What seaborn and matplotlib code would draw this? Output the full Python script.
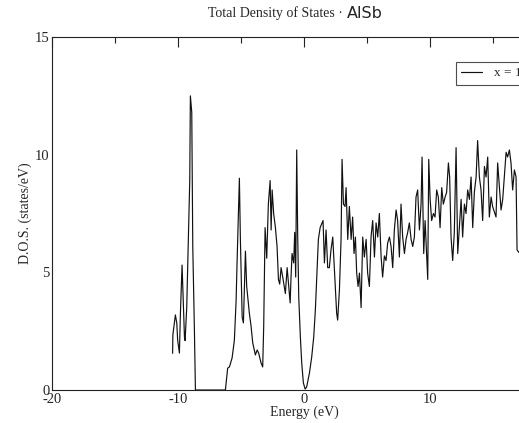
import matplotlib

matplotlib.use("Agg")

import matplotlib.pyplot as plt
import pandas as pd
import seaborn as sns
from matplotlib.ticker import MultipleLocator

# values (energy in eV, DOS in states/eV)
energy = [
    -10.46, -10.44, -10.24, -10.13, -10.06, -9.92, -9.84, -9.71, -9.52, -9.47,
    -9.34, -9.21, -9.10, -9.05, -8.94, -8.86, -8.73, -8.65, -6.27,
    -6.09, -5.95, -5.74, -5.56, -5.42, -5.34, -5.16, -5.08, -4.94, -4.84,
    -4.68, -4.58, -4.37, -4.23, -4.10, -3.89, -3.75, -3.63, -3.44, -3.31,
    -3.23, -3.12, -2.99, -2.86, -2.72, -2.64, -2.56, -2.44, -2.30, -2.17,
    -2.06, -1.96, -1.85, -1.72, -1.51, -1.37, -1.13, -1.06, -0.98, -0.85,
    -0.77, -0.69, -0.61, -0.53, -0.45, -0.32, -0.21, -0.08, 0.06, 0.18,
    0.40, 0.58, 0.74, 0.87, 1.01, 1.11, 1.25, 1.48, 1.59, 1.72,
    1.85, 1.98, 2.11, 2.25, 2.33, 2.46, 2.56, 2.64, 2.78, 2.91,
    2.99, 3.10, 3.23, 3.31, 3.44, 3.57, 3.71, 3.83, 3.94, 4.05,
    4.15, 4.26, 4.37, 4.50, 4.63, 4.76, 4.90, 5.02, 5.16, 5.29,
    5.42, 5.56, 5.69, 5.82, 5.95, 6.09, 6.21, 6.35, 6.48, 6.61,
    6.75, 6.88, 7.01, 7.14, 7.28, 7.40, 7.54, 7.67, 7.80, 7.94,
    8.07, 8.20, 8.33, 8.47, 8.60, 8.73, 8.86, 8.99, 9.13, 9.26,
    9.34, 9.47, 9.58, 9.79, 9.87, 9.98, 10.10, 10.24, 10.37, 10.50,
    10.63, 10.77, 10.90, 11.03, 11.17, 11.29, 11.43, 11.53, 11.64, 11.77,
    11.90, 12.04, 12.17, 12.30, 12.44, 12.56, 12.70, 12.83, 12.96, 13.10,
    13.23, 13.36, 13.49, 13.63, 13.75, 13.89, 14.02, 14.15, 14.29, 14.42,
    14.55, 14.68, 14.82, 14.94, 15.21, 15.34, 15.48, 15.61, 15.74, 15.87,
    16.01, 16.13, 16.27, 16.40, 16.53, 16.67, 16.80, 16.88, 17.10,
]
dos = [
    1.56, 2.34, 3.19, 2.85, 2.12, 1.57, 3.27, 5.31, 2.25, 2.10,
    3.50, 6.40, 8.90, 12.50, 11.80, 6.10, 2.55, 0.00, 0.00,
    0.93, 0.98, 1.36, 2.10, 3.80, 5.50, 9.00, 6.40, 3.10, 2.85,
    5.90, 4.40, 3.27, 2.70, 2.00, 1.49, 1.70, 1.57, 1.15, 0.98,
    2.70, 6.90, 5.60, 7.90, 8.90, 6.80, 8.50, 7.50, 6.90, 6.10,
    4.70, 4.50, 5.20, 4.80, 4.10, 5.20, 3.70, 4.80, 5.80, 5.40,
    6.70, 4.80, 10.20, 6.50, 3.97, 2.25, 1.13, 0.30, 0.04, 0.13,
    0.72, 1.40, 2.25, 3.40, 5.10, 6.40, 6.90, 7.20, 5.40, 6.80,
    5.20, 5.20, 5.95, 6.50, 5.65, 4.25, 3.27, 2.97, 4.25, 6.40,
    9.80, 7.90, 7.80, 8.60, 6.40, 7.80, 6.40, 7.35, 5.80, 6.50,
    4.97, 4.40, 4.97, 3.50, 6.50, 5.65, 6.40, 4.97, 4.40, 6.50,
    7.20, 5.65, 7.10, 6.50, 7.50, 5.65, 4.80, 5.70, 5.50, 6.25,
    6.50, 6.10, 5.20, 6.80, 7.65, 7.20, 5.65, 7.90, 6.50, 5.80,
    6.40, 6.70, 7.10, 6.40, 6.10, 6.50, 8.20, 8.50, 6.80, 7.90,
    9.90, 5.80, 7.20, 4.70, 9.80, 8.10, 7.20, 7.50, 7.35, 8.50,
    8.20, 6.90, 8.60, 7.90, 8.20, 8.40, 9.65, 9.05, 6.50, 5.50,
    6.70, 10.30, 5.80, 6.90, 8.10, 6.50, 7.90, 7.50, 8.50, 8.10,
    9.05, 6.90, 8.40, 9.05, 10.60, 9.05, 8.50, 7.20, 9.50, 9.05,
    9.90, 7.35, 8.20, 7.80, 7.35, 9.65, 8.60, 7.65, 8.10, 9.05,
    10.10, 9.90, 10.20, 9.65, 8.50, 9.35, 9.05, 5.95, 5.80,
]

x_ticks = [-20, -10, 0, 10, 20]
y_ticks = [0, 5, 10, 15]

sns.set_style("white")
plt.rcParams.update({
    "font.family": ["Liberation Serif", "DejaVu Serif"],
    "axes.unicode_minus": False,
    "xtick.direction": "in",
    "ytick.direction": "in",
    "axes.edgecolor": "#222222",
    "axes.linewidth": 0.8,
})

df = pd.DataFrame({"Energy": energy, "DOS": dos})

fig = plt.figure(figsize=(5.19, 4.23), dpi=100)
ax = fig.add_axes([0.101, 0.078, 1.072 - 0.101, 0.8345])
sns.lineplot(data=df, x="Energy", y="DOS", ax=ax, color="#111111", linewidth=0.85,
             sort=False, estimator=None, label="x = 1")

ax.set_xlim(-20, 20)
ax.set_ylim(0, 15)
ax.set_xticks(x_ticks)
ax.set_yticks(y_ticks)
ax.xaxis.set_minor_locator(MultipleLocator(5))
ax.yaxis.set_minor_locator(MultipleLocator(2.5))
ax.tick_params(which="both", top=True, right=True, color="#222222", labelsize=10.5, pad=2)
ax.tick_params(which="major", length=7, width=0.8)
ax.tick_params(which="minor", length=4, width=0.8)
ax.set_xlabel("Energy (eV)", fontsize=10, labelpad=0)
ax.set_ylabel("D.O.S. (states/eV)", fontsize=10, labelpad=2)

leg = ax.legend(loc="upper left", bbox_to_anchor=(0.800, 0.930), borderaxespad=0,
                frameon=True, fancybox=False, edgecolor="#222222", fontsize=9.5,
                handlelength=1.6, handletextpad=0.9, borderpad=0.4)
leg.get_frame().set_linewidth(0.8)

fig.text(0.660, 0.968, "Total Density of States \u00b7", ha="right", va="center",
         fontsize=10, family=["Liberation Serif", "DejaVu Serif"])
fig.text(0.669, 0.968, "AlSb", ha="left", va="center", fontsize=11.5,
         family=["DejaVu Sans"])

fig.savefig("out.png", dpi=100, facecolor="white")
